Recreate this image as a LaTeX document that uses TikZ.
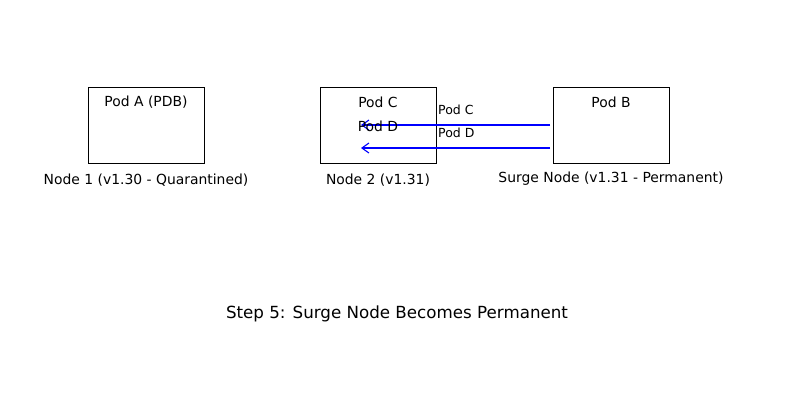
\documentclass[tikz,border=0pt]{standalone}
\usepackage{fontspec}
\setmainfont{DejaVu Sans}
\usetikzlibrary{arrows.meta}
\definecolor{migblue}{RGB}{0,0,255}
\begin{document}
\begin{tikzpicture}[x=1pt,y=-1pt,
  nodebox/.style={draw=black,line width=0.9pt,minimum width=116pt,minimum height=76pt,inner sep=0pt},
  txt/.style={font=\fontsize{13.9}{16}\selectfont,inner sep=0pt},
  small/.style={font=\fontsize{12.5}{14}\selectfont,inner sep=0pt,anchor=west},
  title/.style={font=\fontsize{16.7}{19}\selectfont,inner sep=0pt},
  mig/.style={migblue,line width=1.1pt,-{Straight Barb[length=7pt,width=10pt,line width=1.1pt]}}]
\useasboundingbox (0,0) rectangle (794,405);
\node[nodebox] (n1) at (146,125) {};
\node[nodebox] (n2) at (378,125) {};
\node[nodebox] (n3) at (611,125) {};
\coordinate (s1) at (550,125);
\coordinate (e1) at (361,125);
\coordinate (s2) at (550,148);
\coordinate (e2) at (361,148);
\draw[mig] (s2) -- (e2);
\draw[mig] (s1) -- (e1);
\node[txt] (pa) at (146,102) {Pod A (PDB)};
\node[txt] (pc) at (378,102) {Pod C};
\node[txt] (pd) at (378,126) {Pod D};
\node[txt] (pb) at (611,102) {Pod B};
\node[txt] (l1) at (146,180) {Node 1 (v1.30 - Quarantined)};
\node[txt] (l2) at (378,180) {Node 2 (v1.31)};
\node[txt] (l3) at (611,179) {Surge Node (v1.31 - Permanent)};
\node[small] (a1) at (438,110) {Pod C};
\node[small] (a2) at (438,133) {Pod D};
\node[title] (t) at (397,313.5) {Step 5: Surge Node Becomes Permanent};
\end{tikzpicture}
\end{document}
